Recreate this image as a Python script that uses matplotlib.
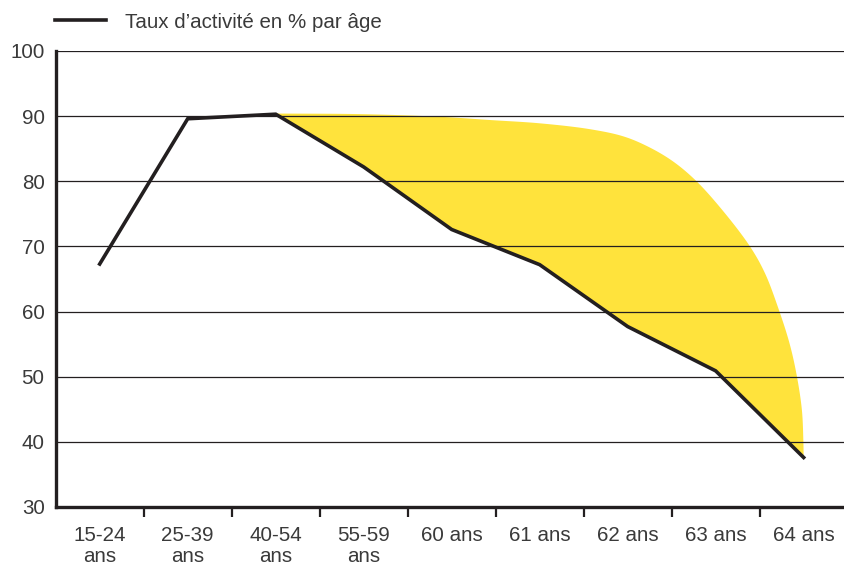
import matplotlib
matplotlib.use('Agg')
import matplotlib.pyplot as plt
import numpy as np

plt.rcParams['font.family'] = ['Liberation Sans', 'DejaVu Sans']

# data
ages = ['15-24\nans', '25-39\nans', '40-54\nans', '55-59\nans',
        '60 ans', '61 ans', '62 ans', '63 ans', '64 ans']
activite = [67.3, 89.6, 90.3, 82.2, 72.6, 67.2, 57.7, 50.9, 37.6]

# upper edge of the yellow zone (x in category units)
zone_x = [2.0, 3.0, 3.87, 4.44, 5.0, 5.57, 5.95, 6.22, 6.5, 6.76,
          7.05, 7.39, 7.56, 7.71, 7.84, 7.92, 7.98, 7.997, 8.0]
zone_y = [90.4, 90.3, 89.9, 89.4, 88.9, 88.0, 86.9, 85.4, 83.2, 80.3,
          76.0, 70.0, 65.9, 60.6, 55.1, 50.3, 44.9, 40.0, 37.6]

yticks = [30, 40, 50, 60, 70, 80, 90, 100]

txt = '#3a3a3a'
noir = '#231f20'
jaune = '#ffe33c'
fs = 14.8


def courbe(xs, ys, sx=88.0, sy=6.51, n=16):
    # centripetal catmull-rom through the read points, only to draw a smooth edge
    p = np.column_stack([np.asarray(xs) * sx, np.asarray(ys) * sy])
    p = np.vstack([2*p[0] - p[1], p, 2*p[-1] - p[-2]])
    out = [p[1]]
    for i in range(1, len(p) - 2):
        p0, p1, p2, p3 = p[i-1], p[i], p[i+1], p[i+2]
        t0 = 0.0
        t1 = t0 + np.linalg.norm(p1 - p0) ** 0.5
        t2 = t1 + np.linalg.norm(p2 - p1) ** 0.5
        t3 = t2 + np.linalg.norm(p3 - p2) ** 0.5
        for t in np.linspace(t1, t2, n)[1:]:
            a1 = (t1-t)/(t1-t0)*p0 + (t-t0)/(t1-t0)*p1
            a2 = (t2-t)/(t2-t1)*p1 + (t-t1)/(t2-t1)*p2
            a3 = (t3-t)/(t3-t2)*p2 + (t-t2)/(t3-t2)*p3
            b1 = (t2-t)/(t2-t0)*a1 + (t-t0)/(t2-t0)*a2
            b2 = (t3-t)/(t3-t1)*a2 + (t-t1)/(t3-t1)*a3
            out.append((t2-t)/(t2-t1)*b1 + (t-t1)/(t2-t1)*b2)
    out = np.array(out)
    return out[:, 0] / sx, out[:, 1] / sy


fig = plt.figure(figsize=(8.45, 5.65), dpi=100)
ax = fig.add_axes([55.7/845, 58/565, 1 - 55.7/845, (507-51)/565])

x = np.arange(len(ages))

# yellow zone: smooth envelope then back along the curve
cx, cy = courbe(zone_x, zone_y)
px = np.concatenate([cx, x[2:][::-1]])
py = np.concatenate([cy, np.array(activite[2:])[::-1]])
ax.fill(px, py, color=jaune, lw=0, zorder=1)

for v in yticks[1:]:
    ax.axhline(v, color=noir, lw=0.9, zorder=1.5)

ax.plot(x, activite, color=noir, lw=2.6, solid_joinstyle='miter',
        label='Taux d\u2019activité en % par âge', zorder=3)

ax.set_xlim(-0.5, 8.47)
ax.set_ylim(30, 100)
ax.set_yticks(yticks)
ax.tick_params(axis='y', length=0, pad=8, labelsize=fs, labelcolor=txt)

ax.set_xticks(np.arange(0.5, 8, 1))
ax.set_xticklabels([])
ax.set_xticks(x, minor=True)
ax.set_xticklabels(ages, minor=True)
ax.tick_params(axis='x', which='major', length=7.5, width=1.6, color=noir)
ax.tick_params(axis='x', which='minor', length=0, pad=14, labelsize=fs,
               labelcolor=txt)
for t in ax.get_xticklabels(minor=True):
    t.set_linespacing(1.1)

for s in ['top', 'right']:
    ax.spines[s].set_visible(False)
for s in ['left', 'bottom']:
    ax.spines[s].set_linewidth(2.4)
    ax.spines[s].set_color(noir)

fig.legend(loc='center left', bbox_to_anchor=(55/845, 1 - 22/565),
           frameon=False, fontsize=fs, handlelength=2.5,
           handletextpad=0.9, borderpad=0, borderaxespad=0,
           labelcolor=txt)

fig.savefig('out.png', dpi=100)
